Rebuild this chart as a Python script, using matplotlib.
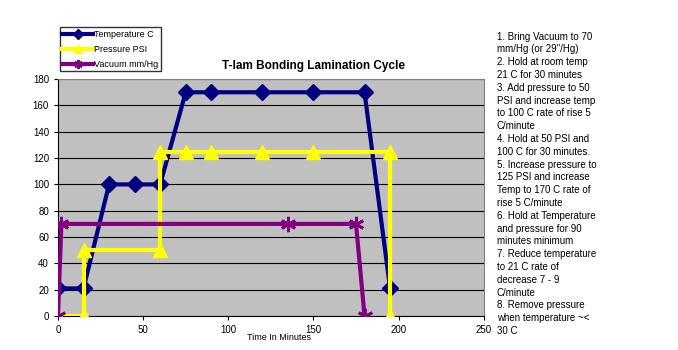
import matplotlib

matplotlib.use("Agg")

import matplotlib.pyplot as plt

plt.rcParams["font.family"] = ["Liberation Sans", "DejaVu Sans"]

# cycle profile (minutes -> value)
temp_t = [0, 15, 30, 45, 60, 75, 90, 120, 150, 180, 195]
temp_c = [21, 21, 100, 100, 100, 170, 170, 170, 170, 170, 21]

press_t = [0, 15, 15, 60, 60, 75, 90, 120, 150, 195, 195]
press_psi = [0, 0, 50, 50, 125, 125, 125, 125, 125, 125, 0]

vac_t = [0, 2, 135, 175, 180]
vac_mm = [0, 70, 70, 70, 0]

notes = [
    "1. Bring Vacuum to 70",
    "mm/Hg (or 29\"/Hg)",
    "2. Hold at room temp",
    "21 C for 30 minutes",
    "3. Add pressure to 50",
    "PSI and increase temp",
    "to 100 C rate of rise 5",
    "C/minute",
    "4. Hold at 50 PSI and",
    "100 C for 30 minutes.",
    "5. Increase pressure to",
    "125 PSI and increase",
    "Temp to 170 C rate of",
    "rise 5 C/minute",
    "6. Hold at Temperature",
    "and pressure for 90",
    "minutes minimum",
    "7. Reduce temperature",
    "to 21 C rate of",
    "decrease 7 - 9",
    "C/minute",
    "8. Remove pressure",
    "when temperature ~<",
    "30 C",
]

fig = plt.figure(figsize=(6.78, 3.5), dpi=100)
ax = fig.add_axes([0.0855, 0.097, 0.628, 0.677])
ax.set_facecolor("#c0c0c0")

ax.plot(temp_t, temp_c, color="#000080", lw=3, marker="D", ms=8.5,
        label="Temperature C", zorder=3)
ax.plot(press_t, press_psi, color="#ffff00", lw=3, marker="^", ms=10,
        label="Pressure PSI", zorder=3)
ax.plot(vac_t, vac_mm, color="#800080", lw=3, marker=(6, 2, 0), ms=11,
        mew=2, label="Vacuum mm/Hg", zorder=3)

ax.set_xlim(0, 250)
ax.set_ylim(0, 180)
ax.set_xticks(range(0, 251, 50))
ax.set_yticks(range(0, 181, 20))
ax.yaxis.grid(True, color="black", lw=0.8)
ax.set_axisbelow(True)
ax.tick_params(labelsize=7, length=3, width=0.8)
for side in ["top", "right"]:
    ax.spines[side].set_color("#808080")
ax.set_xlabel("Time In Minutes", fontsize=6.5, labelpad=-1)
ax.xaxis.set_label_coords(0.52, -0.07)

fig.text(0.462, 0.81, "T-lam Bonding Lamination Cycle", ha="center",
         va="center", fontsize=8.5, fontweight="bold")

fig.legend(loc="upper left", bbox_to_anchor=(0.088, 0.922), fontsize=6.5,
           frameon=True, fancybox=False, edgecolor="black",
           handlelength=3.4, handletextpad=0.1, borderpad=0.3,
           labelspacing=0.65, borderaxespad=0, markerscale=0.55)

fig.text(0.733, 0.91, "\n".join(notes), ha="left", va="top",
         fontsize=7, linespacing=1.35)

fig.savefig("out.png", dpi=100)
